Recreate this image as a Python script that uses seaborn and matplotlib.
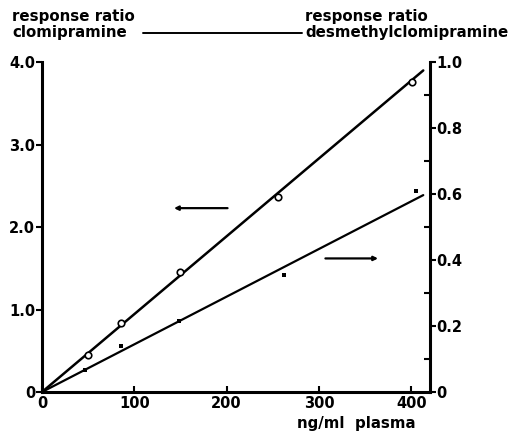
import numpy as np
import pandas as pd
import seaborn as sns
import matplotlib.pyplot as plt
from matplotlib.lines import Line2D

# ---------- data ----------
conc_clom = [50, 86, 149, 256, 401]
ratio_clom = [0.45, 0.84, 1.45, 2.36, 3.76]

conc_desm = [47, 86, 148, 262, 405]
ratio_desm = [0.067, 0.139, 0.215, 0.355, 0.61]

fit_x = [0, 413]
fit_clom = [0, 3.9]
fit_desm = [0, 0.597]

# arrows pointing to the relevant axis (x start, x end, y)
arrow_clom = (201, 143, 2.23)
arrow_desm = (307, 364, 1.62)

sns.set_style("ticks", {"text.color": "black", "axes.edgecolor": "black",
                        "xtick.color": "black", "ytick.color": "black",
                        "axes.labelcolor": "black"})
plt.rcParams["font.family"] = ["DejaVu Sans"]
plt.rcParams["font.weight"] = "bold"

fig = plt.figure(figsize=(5.17, 4.38), dpi=100)
ax = fig.add_axes([0.0812, 0.105, 0.75, 0.753])
ax2 = ax.twinx()

df_fit = pd.DataFrame({"x": fit_x, "clom": fit_clom, "desm": fit_desm})
sns.lineplot(data=df_fit, x="x", y="clom", ax=ax, color="black", lw=1.8)
sns.lineplot(data=df_fit, x="x", y="desm", ax=ax2, color="black", lw=1.6)

sns.scatterplot(x=conc_clom, y=ratio_clom, ax=ax, marker="o", s=22,
                facecolor="white", edgecolor="black", linewidth=1.2, zorder=5)
sns.scatterplot(x=conc_desm, y=ratio_desm, ax=ax2, marker="s", s=12,
                color="black", linewidth=0, zorder=5)

ax.annotate("", xy=(arrow_clom[1], arrow_clom[2]), xytext=(arrow_clom[0], arrow_clom[2]),
            arrowprops=dict(arrowstyle="-|>", color="black", lw=1.6,
                            mutation_scale=6, shrinkA=0, shrinkB=0))
ax.annotate("", xy=(arrow_desm[1], arrow_desm[2]), xytext=(arrow_desm[0], arrow_desm[2]),
            arrowprops=dict(arrowstyle="-|>", color="black", lw=1.6,
                            mutation_scale=6, shrinkA=0, shrinkB=0))

ax.set_xlim(0, 420)
ax.set_ylim(0, 4.0)
ax2.set_ylim(0, 1.0)

ax.set_xticks([0, 100, 200, 300, 400])
ax.set_yticks([0, 1, 2, 3, 4])
ax.set_yticklabels(["0", "1.0", "2.0", "3.0", "4.0"])
ax2.set_yticks([0, 0.2, 0.4, 0.6, 0.8, 1.0])
ax2.set_yticklabels(["0", "0.2", "0.4", "0.6", "0.8", "1.0"])
ax2.set_yticks(np.arange(0.1, 1.0, 0.2), minor=True)

ax.set_xlabel("")
ax.set_ylabel("")
ax2.set_ylabel("")

for a in (ax, ax2):
    a.spines["top"].set_visible(False)
    for s in a.spines.values():
        s.set_linewidth(2.2)
        s.set_color("black")
ax2.spines["left"].set_visible(False)
ax2.spines["bottom"].set_visible(False)
ax.spines["right"].set_visible(False)

ax.tick_params(axis="x", direction="in", length=4, width=1.5, pad=3, labelsize=10.5)
ax.tick_params(axis="y", direction="out", length=4, width=1.5, pad=1, labelsize=10.5)
ax2.tick_params(axis="y", which="major", direction="out", length=4, width=1.5, pad=1, labelsize=10.5)
ax2.tick_params(axis="y", which="minor", direction="in", length=4, width=1.5)

hdr = dict(fontsize=10.8, fontweight="bold", va="center", color="black")
fig.text(0.023, 0.963, "response ratio", **hdr)
fig.text(0.023, 0.925, "clomipramine", **hdr)
fig.text(0.59, 0.963, "response ratio", **hdr)
fig.text(0.59, 0.925, "desmethylclomipramine", **hdr)
fig.add_artist(Line2D([0.277, 0.585], [0.925, 0.925], transform=fig.transFigure,
                      color="black", lw=1.4))
fig.text(0.575, 0.033, "ng/ml  plasma", **hdr)

fig.savefig("out.png", dpi=100)
